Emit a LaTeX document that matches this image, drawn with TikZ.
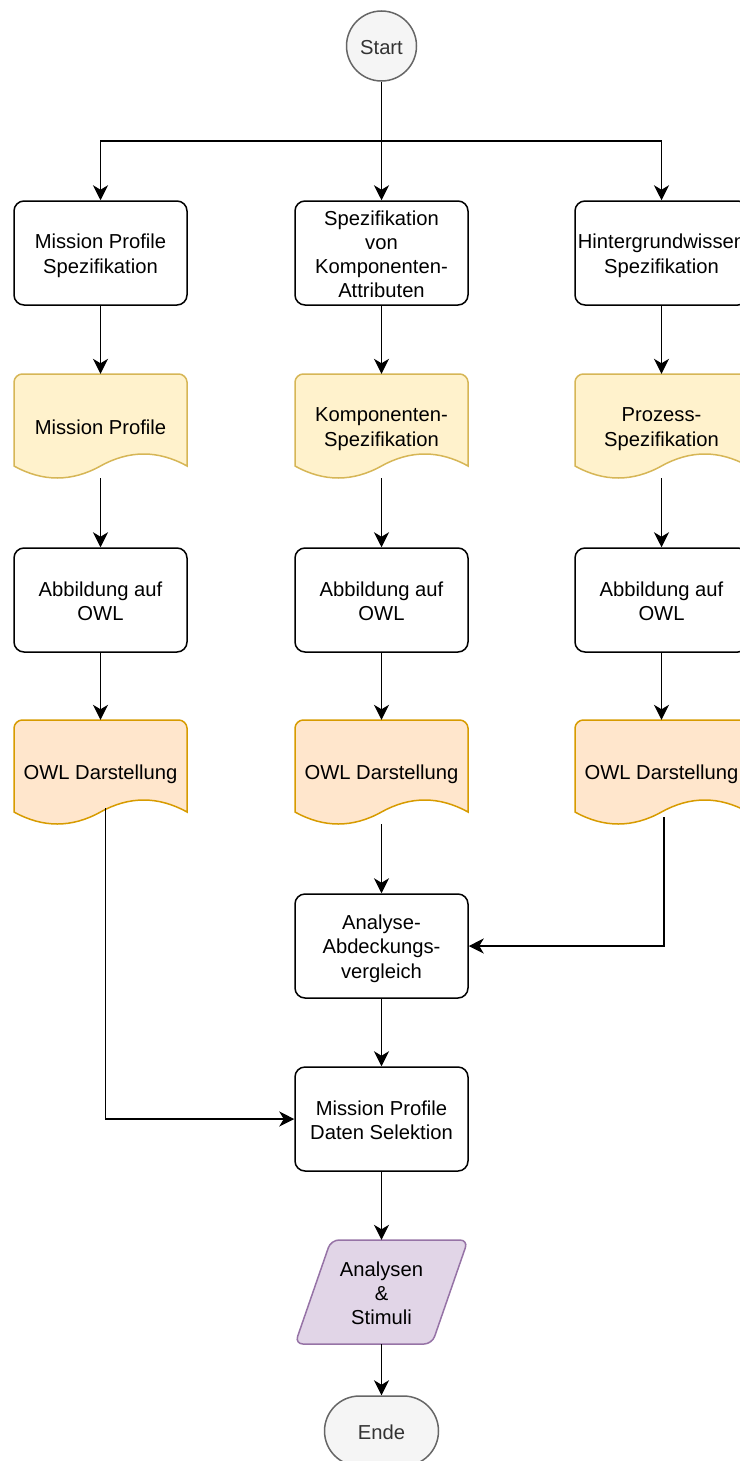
\documentclass[tikz,border=0pt]{standalone}
\usepackage{fontspec}
\setmainfont{Liberation Sans}
\usetikzlibrary{arrows.meta}

\definecolor{termfill}{HTML}{F5F5F5}
\definecolor{termline}{HTML}{666666}
\definecolor{termtext}{HTML}{333333}
\definecolor{docfill}{HTML}{FFF2CC}
\definecolor{docline}{HTML}{D6B656}
\definecolor{owlfill}{HTML}{FFE6CC}
\definecolor{owlline}{HTML}{D79B00}
\definecolor{iofill}{HTML}{E1D5E7}
\definecolor{ioline}{HTML}{9673A6}

% invisible rules fixing the height of the first line and the depth of the last one
\newcommand\topstrut{\vrule height 20pt depth 0pt width 0pt\relax}
\newcommand\botstrut{\vrule height 0pt depth 3pt width 0pt\relax}
% a centred block of lines, each on the same line pitch
\newcommand\lines[1]{\parbox{173pt}{\centering\topstrut #1\botstrut}}

\tikzset{
  procbox/.style={draw=black, line width=1.5pt, fill=white, rounded corners=10pt,
    minimum width=173pt, minimum height=104pt, inner sep=0pt},
  docbox/.style={minimum width=173pt, minimum height=104pt, inner sep=0pt},
  termnode/.style={draw=termline, line width=1.5pt, fill=termfill, text=termtext, inner sep=0pt},
  arr/.style={line width=1.5pt, -{Stealth[length=15pt, width=15pt, inset=4.5pt]}},
  plain/.style={line width=1.5pt},
  yellowdoc/.style={draw=docline, fill=docfill, line width=1.5pt},
  orangedoc/.style={draw=owlline, fill=owlfill, line width=1.5pt},
}

% document shape: top corners rounded, wavy bottom edge; node carries the name and text
\newcommand\docshape[5]{%
  \draw[#4, shift={(#2,#3)}]
    (-86.5,40) -- (-86.5,-44) .. controls (-86.5,-48.4) and (-82.1,-52) .. (-78.5,-52)
    -- (78.5,-52) .. controls (82.1,-52) and (86.5,-48.4) .. (86.5,-44)
    -- (86.5,40) .. controls (57.67,24) and (28.83,24) .. (0,40)
    .. controls (-28.83,56) and (-57.67,56) .. (-86.5,40) -- cycle;
  \node[docbox] (#1) at (#2,#3) {\lines{#5}};%
}

\begin{document}
\begin{tikzpicture}[x=1pt, y=-1pt, font=\fontsize{20.2}{24.2}\selectfont]
\useasboundingbox (0,0) rectangle (739,1461);

% start terminal and the fork to the three columns
\node[termnode, circle, minimum size=70pt] (start) at (381.5,46) {\topstrut Start\botstrut};
\coordinate (fork) at (381.5,141);

% first row: specification steps
\node[procbox] (spec1) at (100.5,253) {\lines{Mission Profile\\Spezifikation}};
\node[procbox] (spec2) at (381.5,253) {\lines{Spezifikation\\von\\Komponenten-\\Attributen}};
\node[procbox] (spec3) at (661.5,253) {\lines{Hintergrundwissen\\Spezifikation}};

% specification documents
\docshape{doc1}{100.5}{426}{yellowdoc}{Mission Profile}
\docshape{doc2}{381.5}{426}{yellowdoc}{Komponenten-\\Spezifikation}
\docshape{doc3}{661.5}{426}{yellowdoc}{Prozess-\\Spezifikation}

% mapping to OWL
\node[procbox] (map1) at (100.5,600) {\lines{Abbildung auf\\OWL}};
\node[procbox] (map2) at (381.5,600) {\lines{Abbildung auf\\OWL}};
\node[procbox] (map3) at (661.5,600) {\lines{Abbildung auf\\OWL}};

% OWL representations
\docshape{owl1}{100.5}{772}{orangedoc}{OWL Darstellung}
\docshape{owl2}{381.5}{772}{orangedoc}{OWL Darstellung}
\docshape{owl3}{661.5}{772}{orangedoc}{OWL Darstellung}

% analysis and selection
\node[procbox] (ana) at (381.5,946) {\lines{Analyse-\\Abdeckungs-\\vergleich}};
\node[procbox] (sel) at (381.5,1119) {\lines{Mission Profile\\Daten Selektion}};

% output: analyses and stimuli
\draw[draw=ioline, fill=iofill, line width=1.5pt, rounded corners=8pt]
  (331,1240) -- (468,1240) -- (432,1344) -- (295,1344) -- cycle;
\node[docbox] (out) at (381.5,1292) {\lines{Analysen\\\&\\Stimuli}};

% end terminal
\node[termnode, rounded corners=35pt, minimum width=114pt, minimum height=70pt] (ende) at (381.5,1431) {\topstrut Ende\botstrut};

% connectors
\draw[plain] (start.south) -- (fork);
\draw[arr] (fork) -| (spec1.north);
\draw[arr] (fork) -- (spec2.north);
\draw[arr] (fork) -| (spec3.north);

\draw[arr] (spec1.south) -- (doc1.north);
\draw[arr] (spec2.south) -- (doc2.north);
\draw[arr] (spec3.south) -- (doc3.north);

\draw[arr] (doc1.south) -- (map1.north);
\draw[arr] (doc2.south) -- (map2.north);
\draw[arr] (doc3.south) -- (map3.north);

\draw[arr] (map1.south) -- (owl1.north);
\draw[arr] (map2.south) -- (owl2.north);
\draw[arr] (map3.south) -- (owl3.north);

\draw[arr] (owl2.south) -- (ana.north);
\draw[arr] ([xshift=2.5pt, yshift=7pt]owl3.south) |- (ana.east);
\draw[arr] ([xshift=5pt, yshift=16pt]owl1.south) |- (sel.west);

\draw[arr] (ana.south) -- (sel.north);
\draw[arr] (sel.south) -- (out.north);
\draw[arr] (out.south) -- (ende.north);
\end{tikzpicture}
\end{document}
